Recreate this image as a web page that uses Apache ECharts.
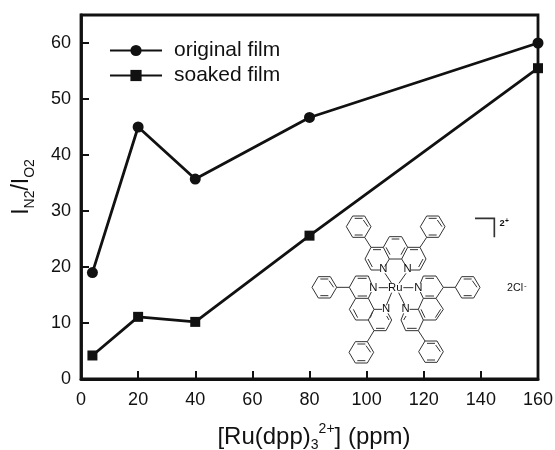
<!DOCTYPE html>
<html><head><meta charset="utf-8">
<style>html,body{margin:0;padding:0;background:#fff}#c{width:555px;height:450px}</style>
<script src="https://cdn.jsdelivr.net/npm/echarts@6/dist/echarts.min.js"></script>
</head><body><div id="c"></div>
<script>
var concentrations = [4, 20, 40, 80, 160];
var originalFilm = [19, 45, 35.7, 46.7, 60];
var soakedFilm = [4.2, 11.1, 10.2, 25.6, 55.5];
var seriesNames = ['original film', 'soaked film'];

function pairs(v){ return concentrations.map(function(x,i){ return [x, v[i]]; }); }

// Inset molecule (decoration, in 3x-zoomed local units)
var phenyls = [[206,110],[428,110],[103,292],[533,292],[214,487],[423,485]];
var paths = [
  // top phenanthroline
  [[280,172],[298,140],[335,140],[353,172],[335,207],[298,207],[280,172]],
  [[280,172],[243,172],[225,207],[243,240],[270,240]],
  [[298,207],[284,230]],
  [[353,172],[390,172],[408,207],[390,240],[363,240]],
  [[335,207],[349,230]],
  [[224,142],[243,172]],[[410,142],[390,172]],
  // left phenanthroline
  [[178,292],[197,258],[235,258],[244,280]],
  [[178,292],[197,325],[235,325],[244,306]],
  [[197,325],[178,358],[197,390],[235,390],[252,358],[235,325]],
  [[252,358],[276,358]],[[235,390],[252,422],[288,422],[305,390],[294,370]],
  [[140,292],[178,292]],[[232,455],[252,422]],
  // right phenanthroline
  [[391,280],[400,258],[438,258],[460,292],[438,325],[400,325],[391,306]],
  [[400,325],[385,358],[400,390],[438,390],[460,358],[438,325]],
  [[359,358],[385,358]],[[400,390],[385,422],[347,422],[333,390],[341,370]],
  [[460,292],[496,292]],[[385,422],[405,453]],
  // Ru bonds
  [[285,250],[305,280]],[[348,250],[327,280]],
  [[266,293],[294,293]],[[340,293],[370,293]],
  [[289,346],[305,308]],[[345,346],[326,308]]
];
var doubles = [
  [[305,147],[328,147]],[[288,172],[300,194]],[[345,172],[333,194]],
  [[249,179],[273,179]],[[384,179],[360,179]],[[234,207],[247,231]],[[399,207],[386,231]],
  [[203,265],[230,265]],[[203,318],[231,318]],[[190,358],[203,383]],[[241,383],[248,365]],
  [[258,415],[284,415]],[[297,390],[290,378]],
  [[406,265],[432,265]],[[406,318],[432,318]],[[452,358],[436,383]],[[405,383],[393,358]],
  [[351,415],[380,415]],[[341,390],[348,378]]
];
var molecule = [];
function line(p, w){ molecule.push({type:'polyline',shape:{points:p},style:{stroke:'#333',lineWidth:w||3,fill:null}}); }
function label(s,x,y,size,weight){
  molecule.push({type:'text',x:x,y:y,style:{text:s,font:(weight||'normal')+' '+size+'px "Liberation Sans"',fill:'#111',align:'center',verticalAlign:'middle'}});
}
phenyls.forEach(function(c){
  var x=c[0],y=c[1];
  line([[x-37,y],[x-18,y-32],[x+18,y-32],[x+37,y],[x+18,y+32],[x-18,y+32],[x-37,y]]);
  line([[x-12,y-25],[x+12,y-25]]);line([[x-12,y+25],[x+12,y+25]]);line([[x+28,y],[x+14,y-20]]);
});
paths.forEach(function(p){ line(p); });
doubles.forEach(function(p){ line(p); });
line([[555,85],[613,85],[613,142]],5);
[['N',280,238],['N',353,238],['N',250,293],['N',288,358],['N',385,293],['N',347,358]].forEach(function(t){
  label(t[0],t[1],t[2],34);
});
label('Ru',316,293,34);
label('2',636,100,28,'bold');
label('+',651,92,20,'bold');
label('2Cl',675,295,32);
label('-',706,286,24);

var chart = echarts.init(document.getElementById('c'));
var ink = '#111';
var fam = '"Liberation Sans", Arial, sans-serif';
chart.setOption({
  animation:false,
  backgroundColor:'#fff',
  grid:{left:81,right:17,top:15,bottom:71,outerBoundsMode:'none',show:true,borderColor:ink,borderWidth:2.8,backgroundColor:'transparent'},
  legend:{
    left:104, top:35, orient:'vertical', itemWidth:52, itemHeight:14, itemGap:4,
    selectedMode:false,
    textStyle:{fontFamily:fam,fontSize:21,color:ink,padding:[0,0,0,7]},
    data:seriesNames
  },
  xAxis:{
    type:'value',min:0,max:160,interval:20,
    name:'{a|[Ru(dpp)}{s|3}{u|2+}{a|] (ppm)}',
    nameLocation:'middle',nameGap:43,
    nameTextStyle:{padding:[0,0,0,9],rich:{
      a:{fontFamily:fam,fontSize:24,color:ink,lineHeight:30,padding:[0,0,0,0]},
      s:{fontFamily:fam,fontSize:14,color:ink,lineHeight:30,verticalAlign:'bottom',padding:[10,0,0,0]},
      u:{fontFamily:fam,fontSize:14,color:ink,lineHeight:30,verticalAlign:'top',padding:[0,0,10,0]}
    }},
    axisLine:{show:true,lineStyle:{color:ink,width:2.8}},
    axisTick:{show:true,inside:true,length:8,lineStyle:{color:ink,width:2}},
    axisLabel:{fontFamily:fam,fontSize:18,color:ink,margin:12,hideOverlap:false},
    splitLine:{show:false}
  },
  yAxis:{
    type:'value',min:0,max:65,interval:10,
    name:'{a|I}{s|N2}{a|/I}{s|O2}',
    nameLocation:'middle',nameGap:44,nameRotate:90,
    nameTextStyle:{padding:[0,0,0,20],rich:{
      a:{fontFamily:fam,fontSize:23,color:ink,lineHeight:30},
      s:{fontFamily:fam,fontSize:14,color:ink,lineHeight:30,verticalAlign:'bottom',padding:[10,0,0,0]}
    }},
    axisLine:{show:true,lineStyle:{color:ink,width:2.8}},
    axisTick:{show:true,inside:true,length:8,lineStyle:{color:ink,width:2}},
    axisLabel:{fontFamily:fam,fontSize:18,color:ink,margin:10,showMaxLabel:false,
      formatter:function(v){return v%10===0?String(v):'';}},
    splitLine:{show:false}
  },
  series:[
    {name:seriesNames[0],type:'line',data:pairs(originalFilm),symbol:'circle',symbolSize:11,
     lineStyle:{color:ink,width:2.8},itemStyle:{color:ink},z:3},
    {name:seriesNames[1],type:'line',data:pairs(soakedFilm),symbol:'rect',symbolSize:10,
     lineStyle:{color:ink,width:2.8},itemStyle:{color:ink},z:3}
  ],
  graphic:[{type:'group',x:290,y:190,scaleX:1/3,scaleY:1/3,silent:true,children:molecule}]
});
</script></body></html>
